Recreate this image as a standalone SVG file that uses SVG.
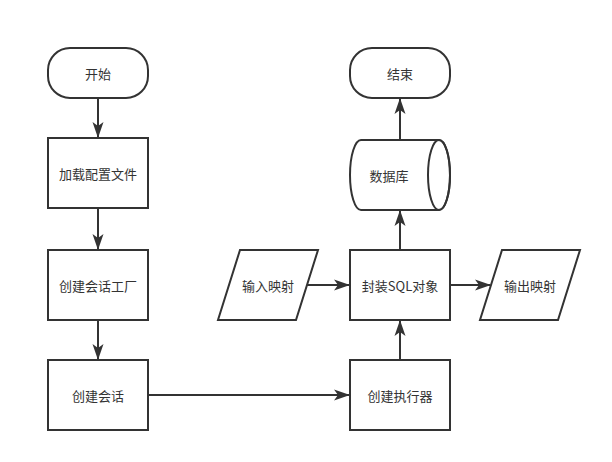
<svg xmlns="http://www.w3.org/2000/svg" width="612" height="462" viewBox="0 0 612 462">
<style>
.s{fill:#fff;stroke:#333;stroke-width:2}
.t{font-family:"Noto Sans CJK SC","Noto Sans",sans-serif;font-size:13px;fill:#333;text-anchor:middle;dominant-baseline:central}
.c{fill:none;stroke:#333;stroke-width:2;marker-end:url(#a)}
</style>
<defs>
<marker id="a" viewBox="0 0 16 12" refX="15" refY="6" markerWidth="16" markerHeight="12" markerUnits="userSpaceOnUse" orient="auto">
<path d="M0,0.5 L16,6 L0,11.5 L4,6 Z" fill="#333"/>
</marker>
</defs>
<rect width="612" height="462" fill="#fff"/>
<g id="connectors">
<path class="c" d="M98,98 L98,137"/>
<path class="c" d="M98,208 L98,249"/>
<path class="c" d="M98,320 L98,359"/>
<path class="c" d="M148,395 L349,395"/>
<path class="c" d="M400,360 L400,321"/>
<path class="c" d="M307,285 L349,285"/>
<path class="c" d="M450,285 L490,285"/>
<path class="c" d="M400,250 L400,211"/>
<path class="c" d="M400,140 L400,99"/>
</g>
<g id="start"><rect class="s" x="48" y="48" width="100" height="50" rx="22" ry="22"/><text class="t" x="98" y="73">开始</text></g>
<g id="load"><rect class="s" x="48" y="138" width="100" height="70"/><text class="t" x="98" y="173">加载配置文件</text></g>
<g id="factory"><rect class="s" x="48" y="250" width="100" height="70"/><text class="t" x="98" y="285">创建会话工厂</text></g>
<g id="session"><rect class="s" x="48" y="360" width="100" height="70"/><text class="t" x="98" y="395">创建会话</text></g>
<g id="executor"><rect class="s" x="350" y="360" width="100" height="70"/><text class="t" x="400" y="395">创建执行器</text></g>
<g id="sql"><rect class="s" x="350" y="250" width="100" height="70"/><text class="t" x="400" y="285">封装SQL对象</text></g>
<g id="input"><path class="s" d="M240,250 L318,250 L296,320 L218,320 Z"/><text class="t" x="268" y="285">输入映射</text></g>
<g id="output"><path class="s" d="M502,250 L580,250 L558,320 L480,320 Z"/><text class="t" x="530" y="285">输出映射</text></g>
<g id="db"><path class="s" d="M361,140 L439,140 A11,35 0 0 1 439,210 L361,210 A11,35 0 0 1 361,140 Z"/><ellipse cx="439" cy="175" rx="11" ry="35" fill="none" stroke="#333" stroke-width="2"/><text class="t" x="389" y="175">数据库</text></g>
<g id="end"><rect class="s" x="350" y="48" width="100" height="50" rx="22" ry="22"/><text class="t" x="400" y="73">结束</text></g>
</svg>
